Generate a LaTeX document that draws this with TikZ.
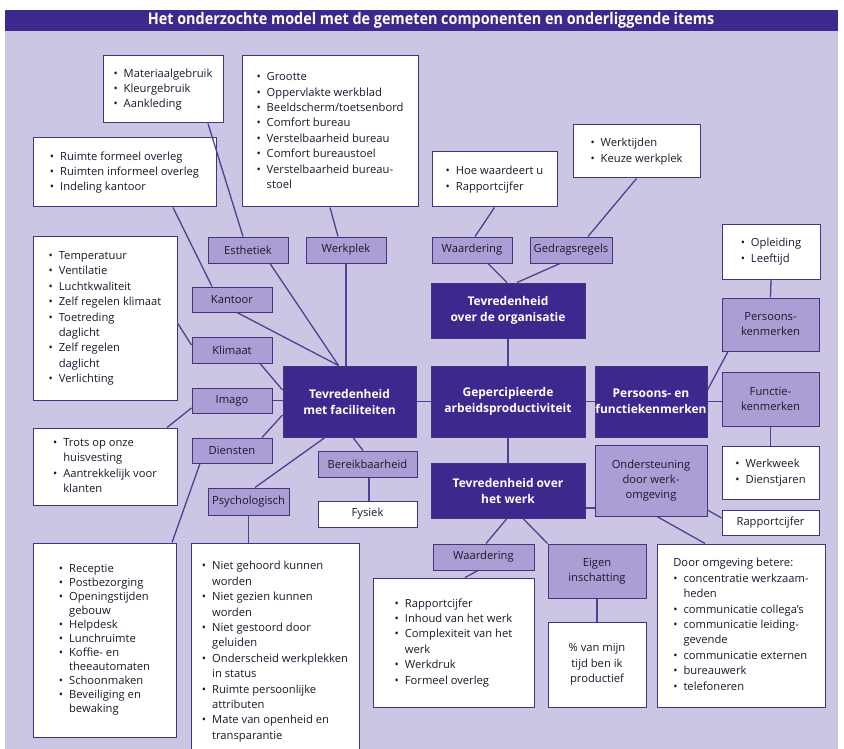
\documentclass[tikz,border=0pt]{standalone}
\usepackage{fontspec}
\setmainfont{Open Sans}
\usetikzlibrary{calc}

\definecolor{bgl}{RGB}{204,197,228}
\definecolor{deep}{RGB}{61,40,142}
\definecolor{midv}{RGB}{170,158,212}
\definecolor{edge}{RGB}{66,52,128}
\definecolor{wirec}{RGB}{78,64,146}
\definecolor{ink}{RGB}{28,24,44}

% bullet rows: \bli = new item, \bcont = continuation line of an item
\newcommand\bli[1]{\textbullet&#1\\}
\newcommand\bcont[1]{&#1\\}
\newcommand\bullist[1]{\begin{tabular}{@{}c@{\hspace{6pt}}l@{}}#1\end{tabular}}
% \placebox{style}{name}{x1}{y1}{x2}{y2}{text}
\newcommand\placebox[7]{\node[#1,minimum width={#5-#3},minimum height={#6-#4}] (#2) at ({(#3+#5)/2},{(#4+#6)/2}) {#7};}

\tikzset{
  listbox/.style={draw=edge,fill=white,line width=1pt,inner sep=0pt,text=ink,
    align=center,font=\fontsize{11.2}{15.4}\selectfont},
  midbox/.style={draw=edge,fill=midv,line width=1pt,inner sep=0pt,text=ink,
    align=center,font=\fontsize{11.2}{15}\selectfont},
  deepbox/.style={draw=edge,fill=deep,line width=1pt,inner sep=0pt,text=white,
    align=center,font=\bfseries\fontsize{12}{16}\selectfont},
  wire/.style={draw=wirec,line width=1.3pt},
}

\begin{document}
\begin{tikzpicture}[x=1pt,y=-1pt]
\useasboundingbox (0,0) rectangle (844,749);
\clip (0,0) rectangle (844,749);
\fill[white] (0,0) rectangle (844,749);
\fill[bgl] (5,10) rectangle (838,749);
\fill[deep] (5,10) rectangle (838,31);
\node[text=white,inner sep=0pt,font=\bfseries\fontsize{16}{18}\selectfont] (title) at (431,20.5)
  {\scalebox{0.9}[1]{Het onderzochte model met de gemeten componenten en onderliggende items}};

% item lists
\placebox{listbox}{mat}{103}{56}{223}{123}{\bullist{\bli{Materiaalgebruik}\bli{Kleurgebruik}\bli{Aankleding}}}
\placebox{listbox}{wpi}{242}{56}{418}{207}{\bullist{\bli{Grootte}\bli{Oppervlakte werkblad}\bli{Beeldscherm/toetsenbord}\bli{Comfort bureau}\bli{Verstelbaarheid bureau}\bli{Comfort bureaustoel}\bli{Verstelbaarheid bureau-}\bcont{stoel}}}
\placebox{listbox}{ruimte}{33}{138}{216}{207}{\bullist{\bli{Ruimte formeel overleg}\bli{Ruimten informeel overleg}\bli{Indeling kantoor}}}
\placebox{listbox}{hoe}{432}{152}{557}{207}{\bullist{\bli{Hoe waardeert u}\bli{Rapportcijfer}}}
\placebox{listbox}{wtd}{573}{125}{700}{178}{\bullist{\bli{Werktijden}\bli{Keuze werkplek}}}
\placebox{listbox}{opl}{722}{224}{820}{279}{\bullist{\bli{Opleiding}\bli{Leeftijd}}}
\placebox{listbox}{temp}{33}{236}{177}{400}{\bullist{\bli{Temperatuur}\bli{Ventilatie}\bli{Luchtkwaliteit}\bli{Zelf regelen klimaat}\bli{Toetreding}\bcont{daglicht}\bli{Zelf regelen}\bcont{daglicht}\bli{Verlichting}}}
\placebox{listbox}{trots}{33}{428}{177}{505}{\bullist{\bli{Trots op onze}\bcont{huisvesting}\bli{Aantrekkelijk voor}\bcont{klanten}}}
\placebox{listbox,font=\fontsize{11.2}{14}\selectfont}{receptie}{33}{543}{176}{737}{\bullist{\bli{Receptie}\bli{Postbezorging}\bli{Openingstijden}\bcont{gebouw}\bli{Helpdesk}\bli{Lunchruimte}\bli{Koffie- en}\bcont{theeautomaten}\bli{Schoonmaken}\bli{Beveiliging en}\bcont{bewaking}}}
\placebox{listbox}{niet}{191}{543}{359}{760}{\raisebox{6pt}{\bullist{\bli{Niet gehoord kunnen}\bcont{worden}\bli{Niet gezien kunnen}\bcont{worden}\bli{Niet gestoord door}\bcont{geluiden}\bli{Onderscheid werkplekken}\bcont{in status}\bli{Ruimte persoonlijke}\bcont{attributen}\bli{Mate van openheid en}\bcont{transparantie}}}}
\placebox{listbox}{rapp}{373}{578}{534}{707}{\bullist{\bli{Rapportcijfer}\bli{Inhoud van het werk}\bli{Complexiteit van het}\bcont{werk}\bli{Werkdruk}\bli{Formeel overleg}}}
\placebox{listbox}{pct}{548}{622}{646}{707}{\% van mijn\\tijd ben ik\\productief}
\placebox{listbox}{door}{657}{544}{825}{707}{\begin{tabular}{@{}c@{\hspace{6pt}}l@{}}\multicolumn{2}{@{}l@{}}{Door omgeving betere:}\\\bli{concentratie werkzaam-}\bcont{heden}\bli{communicatie collega's}\bli{communicatie leiding-}\bcont{gevende}\bli{communicatie externen}\bli{bureauwerk}\bli{telefoneren}\end{tabular}}
\placebox{listbox}{werkweek}{722}{446}{819}{499}{\bullist{\bli{Werkweek}\bli{Dienstjaren}}}
\placebox{listbox}{rappk}{722}{510}{819}{535}{Rapportcijfer}
\placebox{listbox}{fysiek}{318}{501}{417}{527}{Fysiek}

% components
\placebox{midbox}{esth}{208}{237}{288}{263}{Esthetiek}
\placebox{midbox}{wpl}{306}{237}{386}{263}{Werkplek}
\placebox{midbox}{waard}{432}{237}{512}{263}{Waardering}
\placebox{midbox}{gedr}{530}{237}{612}{263}{Gedragsregels}
\placebox{midbox}{kant}{192}{287}{272}{312}{Kantoor}
\placebox{midbox}{klim}{192}{337}{272}{363}{Klimaat}
\placebox{midbox}{imago}{192}{388}{272}{413}{Imago}
\placebox{midbox}{dienst}{192}{438}{272}{463}{Diensten}
\placebox{midbox}{bereik}{318}{451}{417}{477}{Bereikbaarheid}
\placebox{midbox}{psych}{208}{488}{289}{515}{Psychologisch}
\placebox{midbox}{persk}{722}{298}{819}{351}{Persoons-\\kenmerken}
\placebox{midbox}{funk}{722}{372}{819}{426}{Functie-\\kenmerken}
\placebox{midbox}{onder}{595}{445}{707}{516}{Ondersteuning\\door werk-\\omgeving}
\placebox{midbox}{waard2}{433}{544}{534}{570}{Waardering}
\placebox{midbox}{eigen}{548}{544}{646}{598}{Eigen\\inschatting}

% main constructs
\placebox{deepbox}{org}{431}{283}{585}{338}{Tevredenheid\\over de organisatie}
\placebox{deepbox}{fac}{283}{366}{416}{437}{Tevredenheid\\met faciliteiten}
\placebox{deepbox}{gep}{431}{366}{585}{437}{Gepercipieerde\\arbeidsproductiviteit}
\placebox{deepbox}{pfk}{595}{366}{707}{437}{Persoons- en\\functiekenmerken}
\placebox{deepbox}{werk}{431}{463}{585}{518}{Tevredenheid over\\het werk}

% connectors
\draw[wire] ([xshift=45pt]mat.south) -- ([xshift=-5pt]esth.north);
\draw[wire] ([xshift=48.5pt]ruimte.south) -- ([xshift=-20pt]kant.north);
\draw[wire] (wpi.south) -- ([xshift=-8pt]wpl.north);
\draw[wire] (hoe.south) -- ([xshift=3pt]waard.north);
\draw[wire] (wtd.south) -- ([xshift=17pt]gedr.north);
\draw[wire] (opl.south) -- (persk.north);
\draw[wire] ([yshift=-5pt]temp.east) -- ([yshift=5pt]klim.west);
\draw[wire] ([xshift=22pt]esth.south) -- ([xshift=-11pt]fac.north);
\draw[wire] ([xshift=5pt]kant.south) -- ([xshift=-11pt]fac.north);
\draw[wire] (wpl.south) -- (wpl.south |- fac.north);
\draw[wire] ([xshift=28pt]klim.south) -- ([yshift=11.5pt]fac.west);
\draw[wire] (imago.east) -- (imago.east -| fac.west);
\draw[wire] ([yshift=-7.5pt]imago.west) -- ([xshift=62pt]trots.north);
\draw[wire] ([xshift=30pt]dienst.north) -- ([yshift=-13.5pt]fac.west);
\draw[wire] ([xshift=-32pt]dienst.south) -- ([xshift=67.5pt]receptie.north);
\draw[wire] ([xshift=-24.5pt]fac.south) -- ([xshift=6.5pt]psych.north);
\draw[wire] ([xshift=3.5pt]fac.south) -- ([xshift=-4.5pt]bereik.north);
\draw[wire] ([xshift=1.5pt]bereik.south) -- ([xshift=1.5pt]fysiek.north);
\draw[wire] (psych.south) -- (psych.south |- niet.north);
\draw[wire] (fac.east) -- (gep.west);
\draw[wire] ([xshift=16pt]waard.south) -- ([xshift=-1pt]org.north);
\draw[wire] ([xshift=-11pt]gedr.south) -- ([xshift=9pt]org.north);
\draw[wire] (org.south) -- (gep.north);
\draw[wire] (gep.south) -- (werk.north);
\draw[wire] (gep.east) -- (pfk.west);
\draw[wire] ([yshift=11.5pt]pfk.east) -- ([xshift=-42.5pt]persk.south);
\draw[wire] (pfk.east) -- (pfk.east -| funk.west);
\draw[wire] (funk.south) -- (funk.south |- werkweek.north);
\draw[wire] ([yshift=-17.5pt]werk.east) -- ([yshift=-17.5pt]werk.east -| onder.west);
\draw[wire] ([yshift=-29.5pt]onder.east) -- ([yshift=4.5pt]rappk.west);
\draw[wire] ([xshift=6pt]onder.south) -- ([xshift=-36pt]door.north);
\draw[wire] ([xshift=-1pt]werk.south) -- ([xshift=2.5pt]waard2.north);
\draw[wire] ([xshift=15pt]werk.south) -- (eigen.north west);
\draw[wire] ([xshift=-5.5pt]waard2.south) -- ([xshift=11.5pt]rapp.north);
\draw[wire] (eigen.south) -- (pct.north);
\end{tikzpicture}
\end{document}
